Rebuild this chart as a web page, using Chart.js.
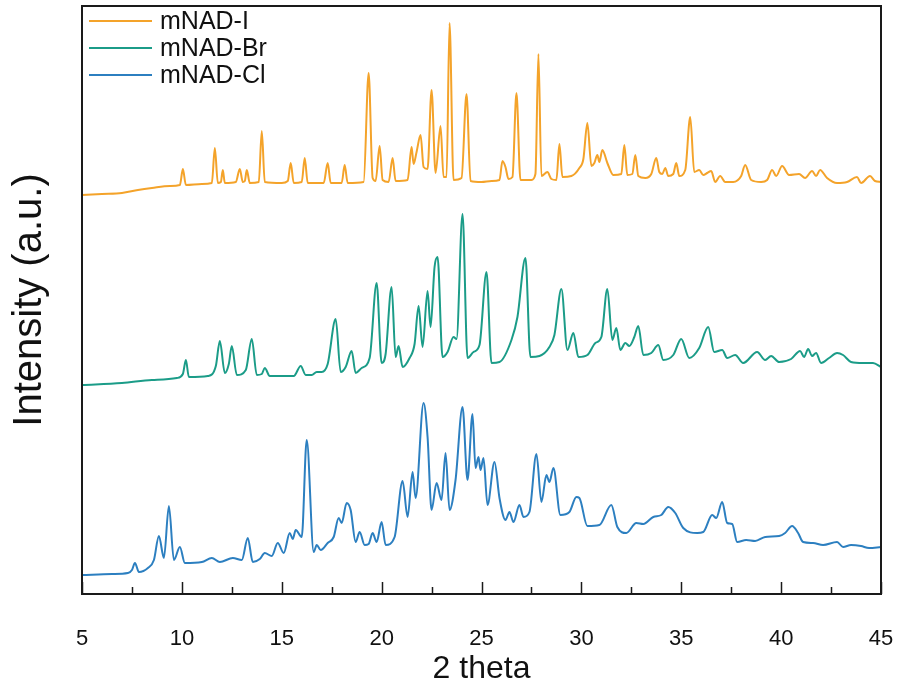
<!DOCTYPE html>
<html>
<head>
<meta charset="utf-8">
<title>PXRD mNAD</title>
<script src="https://cdn.jsdelivr.net/npm/chart.js@4.4.1/dist/chart.umd.min.js"></script>
<style>
html, body { margin: 0; padding: 0; background: #fff; }
#wrap { width: 902px; height: 694px; }
</style>
</head>
<body>
<div id="wrap"><canvas id="myChart" width="902" height="694"></canvas></div>
<script>
// 2 theta positions and intensities (a.u., traces already offset)
var iTheta = [5.0,6.0,7.0,7.8,8.5,9.4,9.9,10.05,10.2,11.0,11.5,11.65,11.8,11.95,12.05,12.15,12.7,12.9,13.05,13.15,13.25,13.4,13.85,14.0,14.15,15.0,15.3,15.45,15.6,16.0,16.15,16.3,17.1,17.3,17.45,18.0,18.15,18.3,19.1,19.35,19.55,19.7,19.9,20.05,20.35,20.55,20.7,21.3,21.5,21.6,21.75,21.95,22.1,22.3,22.5,22.7,22.95,23.1,23.25,23.4,23.6,24.0,24.25,24.45,25.0,25.5,25.9,26.05,26.2,26.35,26.55,26.75,26.95,27.5,27.7,27.85,28.0,28.3,28.5,28.75,28.9,29.05,29.5,29.9,30.1,30.3,30.5,30.65,30.8,30.9,31.05,31.3,31.6,32.0,32.15,32.3,32.55,32.7,32.85,33.2,33.5,33.75,33.9,34.05,34.2,34.35,34.6,34.75,34.9,35.2,35.45,35.65,35.9,36.1,36.3,36.5,36.7,36.95,37.2,37.6,38.0,38.2,38.5,39.0,39.3,39.55,39.75,40.05,40.4,40.9,41.2,41.55,41.75,41.95,42.3,42.8,43.3,43.8,44.0,44.45,44.7,45.0];
var iInt = [399,400,401,404,406,408,409,425,409,410,411,446,411,412,424,411,412,425,412,413,424,411,412,463,412,411,413,431,411,412,436,411,411,431,411,411,429,411,412,521,416,413,448,414,412,436,413,414,447,430,442,459,427,425,504,421,468,417,417,571,414,416,500,413,412,413,414,433,427,415,417,501,414,414,420,540,418,422,415,414,450,417,418,426,435,471,428,431,439,432,444,431,419,420,449,419,420,439,418,416,420,436,422,420,426,418,420,431,418,424,477,422,424,419,421,423,412,418,412,412,418,429,414,412,414,424,418,428,419,420,416,423,418,424,416,411,412,417,411,418,413,412];

var brTheta = [5.0,7.0,8.5,9.75,10.05,10.2,10.35,11.3,11.7,11.9,12.15,12.35,12.5,12.75,13.2,13.5,13.75,14.0,14.15,14.4,15.6,15.95,16.2,16.5,16.75,17.0,17.3,17.7,17.95,18.2,18.5,18.7,19.0,19.4,19.75,20.0,20.2,20.5,20.7,20.85,21.05,21.4,21.65,21.85,22.05,22.3,22.45,22.65,22.8,23.05,23.3,23.6,23.75,24.05,24.3,24.6,24.9,25.25,25.5,25.9,26.5,26.8,27.2,27.45,27.9,28.4,28.65,29.0,29.3,29.6,29.85,30.3,30.7,31.0,31.3,31.55,31.75,31.95,32.2,32.4,32.65,32.85,33.1,33.5,33.85,34.1,34.6,35.0,35.4,35.9,36.35,36.65,37.05,37.3,37.7,38.1,38.8,39.2,39.5,39.9,40.5,40.95,41.15,41.35,41.55,41.75,42.0,42.4,42.8,43.1,43.5,44.1,44.6,45.0];
var brInt = [209,211,214,216,220,234,217,218,228,253,221,230,248,219,224,255,219,220,226,218,218,228,219,219,222,222,230,275,222,227,243,221,226,236,311,231,240,307,237,248,227,236,250,288,247,303,267,327,337,237,242,257,255,380,236,242,249,322,231,232,254,277,336,237,238,247,259,305,244,261,237,239,251,257,305,254,266,244,251,248,257,268,239,241,249,234,239,255,236,246,267,242,244,236,239,231,242,234,238,232,235,243,237,245,238,241,231,236,241,239,232,231,231,227];

var clTheta = [5.0,6.5,7.3,7.5,7.65,7.85,8.3,8.6,8.85,9.1,9.35,9.6,9.9,10.15,11.0,11.5,11.9,12.55,13.0,13.3,13.55,13.9,14.15,14.5,14.8,15.1,15.4,15.55,15.7,16.0,16.25,16.6,16.75,16.95,17.3,17.6,17.85,18.0,18.25,18.45,18.7,18.9,19.15,19.35,19.55,19.75,20.0,20.2,20.65,21.05,21.3,21.55,21.7,22.1,22.3,22.5,22.75,23.0,23.2,23.4,23.7,24.05,24.3,24.55,24.7,24.85,24.95,25.1,25.3,25.65,25.9,26.2,26.4,26.6,26.9,27.1,27.4,27.75,28.0,28.25,28.4,28.6,28.95,29.4,29.75,29.9,30.3,30.9,31.5,31.8,32.25,32.75,33.1,33.6,34.0,34.35,34.7,35.1,35.8,36.1,36.55,36.75,37.05,37.3,37.55,37.8,38.25,38.7,39.2,39.9,40.2,40.55,40.85,41.1,41.6,42.1,42.8,43.1,43.5,44.0,44.4,45.0];
var clInt = [19,20,21,24,31,22,26,34,58,36,88,34,47,31,32,36,32,36,34,56,32,35,41,38,51,41,61,55,64,57,154,42,49,44,51,57,76,71,91,84,52,62,49,50,61,52,72,49,57,113,77,122,96,191,157,84,111,94,141,84,114,187,114,180,126,137,124,136,89,132,96,74,82,72,89,77,82,140,92,119,112,126,79,82,97,96,68,69,89,67,61,71,70,77,79,87,81,66,61,62,79,76,92,71,70,52,54,53,57,58,61,68,61,52,51,49,52,47,49,48,46,47];

var seriesNames = ["mNAD-I", "mNAD-Br", "mNAD-Cl"];
var seriesColors = ["#F4A32A", "#1B9C88", "#2C7FC0"];
var majorTicks = [5,10,15,20,25,30,35,40,45];
var minorTicks = [7.5,12.5,17.5,22.5,27.5,32.5,37.5,42.5];

function toPoints(xs, ys){
  var pts = [];
  for (var i = 0; i < xs.length; i++) pts.push({x: xs[i], y: ys[i]});
  return pts;
}

var FONT = '"Liberation Sans", Arial, sans-serif';

// frame, inward ticks and the legend in the top-left corner
var framePlugin = {
  id: 'frame',
  afterDraw: function(chart){
    var ctx = chart.ctx, a = chart.chartArea, xs = chart.scales.x;
    ctx.save();
    ctx.strokeStyle = '#1a1a1a';
    ctx.lineWidth = 2;
    ctx.strokeRect(a.left, a.top, a.right - a.left, a.bottom - a.top);
    ctx.lineWidth = 1.5;
    majorTicks.forEach(function(v){
      var px = Math.round(xs.getPixelForValue(v)) + 0.5;
      ctx.beginPath(); ctx.moveTo(px, a.bottom); ctx.lineTo(px, a.bottom - 12); ctx.stroke();
    });
    minorTicks.forEach(function(v){
      var px = Math.round(xs.getPixelForValue(v)) + 0.5;
      ctx.beginPath(); ctx.moveTo(px, a.bottom); ctx.lineTo(px, a.bottom - 7); ctx.stroke();
    });
    // legend
    ctx.font = '25px ' + FONT;
    ctx.textBaseline = 'middle';
    ctx.textAlign = 'left';
    chart.data.datasets.forEach(function(ds, i){
      var y = a.top + 15 + i * 27;
      ctx.strokeStyle = ds.borderColor;
      ctx.lineWidth = 2;
      ctx.beginPath(); ctx.moveTo(a.left + 7, y); ctx.lineTo(a.left + 70, y); ctx.stroke();
      ctx.fillStyle = '#111';
      ctx.fillText(ds.label, a.left + 78, y + 1);
    });
    ctx.restore();
  }
};

var ctx = document.getElementById('myChart');
var myChart = new Chart(ctx, {
  type: 'line',
  data: {
    datasets: [
      { label: seriesNames[0], data: toPoints(iTheta, iInt), borderColor: seriesColors[0] },
      { label: seriesNames[1], data: toPoints(brTheta, brInt), borderColor: seriesColors[1] },
      { label: seriesNames[2], data: toPoints(clTheta, clInt), borderColor: seriesColors[2] }
    ]
  },
  options: {
    responsive: false,
    animation: false,
    parsing: false,
    elements: {
      line: { borderWidth: 2, cubicInterpolationMode: 'monotone', fill: false },
      point: { radius: 0 }
    },
    layout: { padding: { top: 6, right: 21, left: 0, bottom: 0 } },
    plugins: {
      legend: { display: false },
      tooltip: { enabled: false }
    },
    scales: {
      x: {
        type: 'linear',
        min: 5,
        max: 45,
        afterFit: function(scale){
          scale.height = 100;
          scale.paddingLeft = 0;
          scale.paddingRight = 0;
        },
        afterBuildTicks: function(scale){
          scale.ticks = majorTicks.map(function(v){ return {value: v}; });
        },
        grid: { display: false },
        border: { display: false },
        ticks: {
          autoSkip: false,
          maxRotation: 0,
          padding: 24,
          color: '#111',
          font: { family: FONT, size: 22 }
        },
        title: {
          display: true,
          text: '2 theta',
          color: '#111',
          padding: { top: 0, bottom: 6 },
          font: { family: FONT, size: 32 }
        }
      },
      y: {
        type: 'linear',
        min: 0,
        max: 588,
        afterFit: function(scale){ scale.width = 82; },
        grid: { display: false },
        border: { display: false },
        ticks: { display: false },
        title: {
          display: true,
          text: 'Intensity (a.u.)',
          color: '#111',
          padding: { top: 6, bottom: 0 },
          font: { family: FONT, size: 40 }
        }
      }
    }
  },
  plugins: [framePlugin]
});
</script>
</body>
</html>
